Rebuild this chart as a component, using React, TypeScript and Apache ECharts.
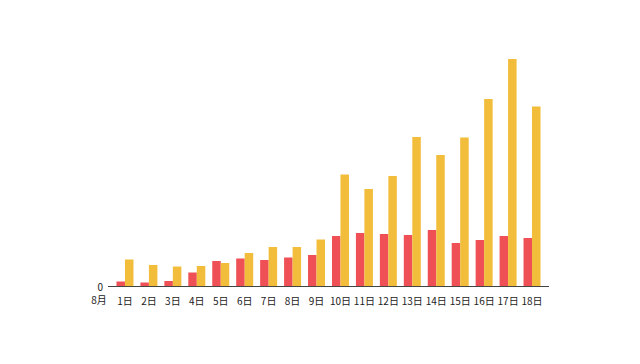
import React, { useEffect, useRef } from "react";
import * as echarts from "echarts";

const categories = ["1日","2日","3日","4日","5日","6日","7日","8日","9日","10日","11日","12日","13日","14日","15日","16日","17日","18日"];
const redValues = [4.5, 3.5, 5, 13.5, 25, 27.5, 26, 28.5, 31, 50, 53, 52, 51, 56, 43, 46, 50, 48];
const yellowValues = [26.5, 21, 19.5, 20, 23, 33, 39, 39, 46.5, 111.5, 97, 110, 149, 131, 148.5, 187, 227, 179.5];
const monthLabel = "8月";

export default function App() {
  const ref = useRef<HTMLDivElement>(null);
  useEffect(() => {
    if (!ref.current) return;
    const chart = echarts.init(ref.current, null, { renderer: "svg" });
    const font = "'Noto Sans CJK SC', 'Noto Sans', sans-serif";
    chart.setOption({
      animation: false,
      grid: { left: 113, right: 96, top: 36, height: 250 },
      xAxis: {
        type: "category",
        data: categories,
        axisLine: { show: false },
        axisTick: { show: false },
        axisLabel: { color: "#222", fontSize: 10, margin: 9, fontFamily: font, interval: 0 },
      },
      yAxis: {
        type: "value",
        min: 0,
        max: 250,
        interval: 250,
        splitLine: { show: false },
        axisLine: { show: false },
        axisTick: { show: false },
        axisLabel: {
          color: "#222",
          fontSize: 10,
          margin: 10,
          fontFamily: font,
          lineHeight: 10,
          formatter: (v: number) => (v === 0 ? "0" : ""),
        },
      },
      graphic: [
        {
          type: "line",
          shape: { x1: 108, y1: 286.5, x2: 549, y2: 286.5 },
          style: { stroke: "#444", lineWidth: 1 },
          z: 10,
        },
        {
          type: "text",
          x: 99,
          y: 299.5,
          style: {
            text: monthLabel,
            fill: "#222",
            fontSize: 10,
            lineHeight: 10,
            fontFamily: font,
            align: "center",
            verticalAlign: "middle",
          },
        },
      ],
      series: [
        {
          type: "bar",
          data: redValues,
          itemStyle: { color: "#EE5055" },
          barGap: 0,
          barCategoryGap: "29%",
        },
        {
          type: "bar",
          data: yellowValues,
          itemStyle: { color: "#F2BD3A" },
          barGap: 0,
          barCategoryGap: "29%",
        },
      ],
    });
    return () => chart.dispose();
  }, []);
  return <div ref={ref} style={{ width: 640, height: 364, margin: -8 }} />;
}
